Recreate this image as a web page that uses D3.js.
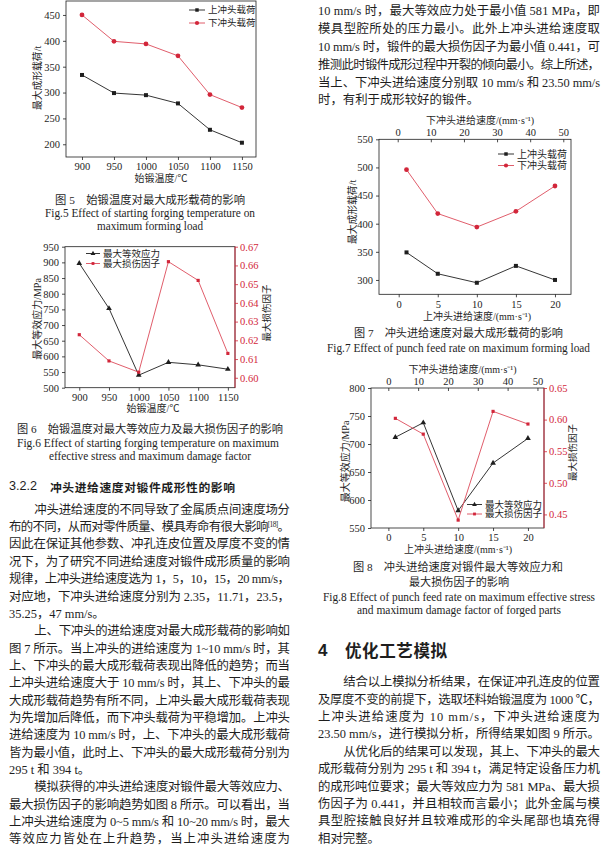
<!DOCTYPE html>
<html>
<head>
<meta charset="utf-8">
<script src="https://cdn.jsdelivr.net/npm/d3@7"></script>
<style>
html, body { margin: 0; padding: 0; background: #fff; }
svg { display: block; }
</style>
</head>
<body>
<svg id="page" width="614" height="848"></svg>
<script>
// ---- data ----
var tempX = [900, 950, 1000, 1050, 1100, 1150];
var upperLoadT = [334, 299, 295, 279, 228, 203];
var lowerLoadT = [450, 399, 394, 371, 296, 271];
var stressT = [897, 753, 540, 581, 573, 559];
var damageT = [0.623, 0.609, 0.603, 0.662, 0.652, 0.613];

var upperSpeed = [1, 5, 10, 15, 20];
var lowerSpeed = [2.35, 11.71, 23.5, 35.25, 47];
var upperLoadV = [349, 311, 295, 325, 300];
var lowerLoadV = [496, 418, 394, 422, 467];
var stressV = [712, 738, 581, 666, 710];
var damageV = [0.602, 0.577, 0.441, 0.613, 0.593];

var tempTicks = [900, 950, 1000, 1050, 1100, 1150];
var loadTicksT = [200, 250, 300, 350, 400, 450];
var stressTicksT = [500, 550, 600, 650, 700, 750, 800, 850, 900, 950];
var damageTicksT = [0.60, 0.61, 0.62, 0.63, 0.64, 0.65, 0.66, 0.67];
var speedTicks = [0, 5, 10, 15, 20];
var lowerSpeedTicks = [0, 10, 20, 30, 40, 50];
var loadTicksV = [300, 350, 400, 450, 500, 550];
var stressTicksV = [550, 600, 650, 700, 750, 800];
var damageTicksV = [0.45, 0.50, 0.55, 0.60, 0.65];

var svg = d3.select("#page");
var SERIF = '"Liberation Serif","Noto Sans CJK SC",serif';
var HEI = '"Noto Sans CJK SC","Liberation Sans",sans-serif';
var INK = "#1e1e1e";
var RED = "#d2263a", REDLINE = "#dd4b5a";
var intFmt = d3.format("d");

function styleAxis(sel, color) {
  sel.attr("font-family", SERIF).attr("font-size", 10.5);
  sel.select(".domain").remove();
  sel.selectAll("line").attr("stroke", color).attr("stroke-width", 0.8);
  sel.selectAll("text").attr("fill", color);
}

function title(t, x, y, o) {
  o = o || {};
  var el = svg.append("text")
    .attr("font-family", SERIF)
    .attr("font-size", o.size || 10)
    .attr("fill", o.color || INK)
    .attr("text-anchor", "middle")
    .attr("dominant-baseline", "central")
    .text(t);
  if (o.rot) el.attr("transform", "translate(" + x + "," + y + ") rotate(-90)");
  else el.attr("x", x).attr("y", y);
  return el;
}

function chart(c) {
  var g = svg.append("g");
  var x = d3.scaleLinear().domain(c.xDomain).range([c.x0, c.x1]);
  var y = d3.scaleLinear().domain(c.yDomain).range([c.y1, c.y0]);
  var y2 = c.y2Domain ? d3.scaleLinear().domain(c.y2Domain).range([c.y1, c.y0]) : null;

  g.append("rect")
    .attr("x", c.x0).attr("y", c.y0)
    .attr("width", c.x1 - c.x0).attr("height", c.y1 - c.y0)
    .attr("fill", "none").attr("stroke", INK).attr("stroke-width", 0.8);

  g.append("g").attr("transform", "translate(0," + c.y1 + ")")
    .call(d3.axisBottom(x).tickValues(c.xTicks).tickFormat(intFmt)
      .tickSize(3).tickPadding(3).tickSizeOuter(0))
    .call(styleAxis, INK);
  g.append("g").attr("transform", "translate(" + c.x0 + ",0)")
    .call(d3.axisLeft(y).tickValues(c.yTicks).tickFormat(intFmt)
      .tickSize(3).tickPadding(3).tickSizeOuter(0))
    .call(styleAxis, INK);

  if (y2) {
    g.append("g").attr("transform", "translate(" + c.x1 + ",0)")
      .call(d3.axisRight(y2).tickValues(c.y2Ticks).tickFormat(d3.format(".2f"))
        .tickSize(3).tickPadding(2).tickSizeOuter(0))
      .call(styleAxis, RED);
    g.append("line").attr("x1", c.x1).attr("x2", c.x1).attr("y1", c.y0).attr("y2", c.y1)
      .attr("stroke", RED).attr("stroke-width", 0.9);
  }
  if (c.xtDomain) {
    var xt = d3.scaleLinear().domain(c.xtDomain).range([c.x0, c.x1]);
    g.append("g").attr("transform", "translate(0," + c.y0 + ")")
      .call(d3.axisTop(xt).tickValues(c.xtTicks).tickFormat(intFmt)
        .tickSize(-3).tickPadding(c.topPad || 3).tickSizeOuter(0))
      .call(styleAxis, INK);
  }

  c.series.forEach(function(s) {
    var yy = s.right ? y2 : y;
    var pts = s.xs.map(function(v, i) { return [x(v), yy(s.ys[i])]; });
    g.append("path")
      .attr("d", d3.line()(pts))
      .attr("fill", "none")
      .attr("stroke", s.line)
      .attr("stroke-width", 0.9);
    g.selectAll(null).data(pts).enter().append("path")
      .attr("transform", function(p) { return "translate(" + p[0] + "," + p[1] + ")"; })
      .attr("d", d3.symbol().type(s.symbol).size(s.size))
      .attr("fill", s.color);
  });

  var lg = c.legend;
  lg.items.forEach(function(it, i) {
    var ly = lg.y + i * lg.dy;
    g.append("line").attr("x1", lg.x).attr("x2", lg.x + lg.len).attr("y1", ly).attr("y2", ly)
      .attr("stroke", it.line).attr("stroke-width", 0.9);
    g.append("path").attr("transform", "translate(" + (lg.x + lg.len / 2) + "," + ly + ")")
      .attr("d", d3.symbol().type(it.symbol).size(it.size)).attr("fill", it.color);
    g.append("text").attr("x", lg.x + lg.len + 3).attr("y", ly)
      .attr("dominant-baseline", "central")
      .attr("font-family", SERIF).attr("font-size", lg.size).attr("fill", INK)
      .text(it.label);
  });
}

// ---- Fig.5 ----
chart({
  x0: 66, x1: 256, y0: 1, y1: 157,
  xDomain: [875, 1172], xTicks: tempTicks,
  yDomain: [175.4, 477], yTicks: loadTicksT,
  series: [
    { xs: tempX, ys: upperLoadT, line: INK, color: INK, symbol: d3.symbolSquare, size: 16 },
    { xs: tempX, ys: lowerLoadT, line: REDLINE, color: RED, symbol: d3.symbolCircle, size: 18 }
  ],
  legend: { x: 189, y: 10, dy: 13, len: 16, size: 9.5, items: [
    { label: "上冲头载荷", line: INK, color: INK, symbol: d3.symbolSquare, size: 12 },
    { label: "下冲头载荷", line: REDLINE, color: RED, symbol: d3.symbolCircle, size: 14 }
  ] }
});
title("最大成形载荷/t", 37, 78, { rot: true, size: 9.8 });
title("始锻温度/℃", 161, 178.5, { size: 10 });

// ---- Fig.6 ----
chart({
  x0: 65, x1: 235, y0: 246.7, y1: 387.7,
  xDomain: [876, 1162], xTicks: tempTicks,
  yDomain: [500, 950], yTicks: stressTicksT,
  y2Domain: [0.5947, 0.67], y2Ticks: damageTicksT,
  series: [
    { xs: tempX, ys: stressT, line: INK, color: INK, symbol: d3.symbolTriangle, size: 14 },
    { xs: tempX, ys: damageT, right: true, line: REDLINE, color: RED, symbol: d3.symbolSquare, size: 10 }
  ],
  legend: { x: 86, y: 253.5, dy: 10, len: 14, size: 9.5, items: [
    { label: "最大等效应力", line: INK, color: INK, symbol: d3.symbolTriangle, size: 10 },
    { label: "最大损伤因子", line: REDLINE, color: RED, symbol: d3.symbolSquare, size: 8 }
  ] }
});
title("最大等效应力/MPa", 37, 319, { rot: true, size: 10 });
title("最大损伤因子", 266.5, 313, { rot: true, size: 9.5 });
title("始锻温度/℃", 153, 408.3, { size: 10 });

// ---- Fig.7 ----
chart({
  x0: 379, x1: 571, y0: 139.3, y1: 294.3,
  xDomain: [-2.52, 22.05], xTicks: speedTicks,
  yDomain: [274.5, 550], yTicks: loadTicksV,
  xtDomain: [-5.65, 52.33], xtTicks: lowerSpeedTicks, topPad: 3,
  series: [
    { xs: upperSpeed, ys: upperLoadV, line: INK, color: INK, symbol: d3.symbolSquare, size: 16 },
    { xs: upperSpeed, ys: lowerLoadV, line: REDLINE, color: RED, symbol: d3.symbolCircle, size: 18 }
  ],
  legend: { x: 498, y: 154, dy: 11.5, len: 16, size: 10, items: [
    { label: "上冲头载荷", line: INK, color: INK, symbol: d3.symbolSquare, size: 12 },
    { label: "下冲头载荷", line: REDLINE, color: RED, symbol: d3.symbolCircle, size: 14 }
  ] }
});
title("最大成形载荷/t", 352, 212, { rot: true, size: 9.8 });
title("上冲头进给速度/(mm·s⁻¹)", 477, 316.7, { size: 10 });
title("下冲头进给速度/(mm·s⁻¹)", 480, 120.7, { size: 10 });

// ---- Fig.8 ----
chart({
  x0: 371, x1: 544, y0: 388, y1: 528,
  xDomain: [-2.49, 22.3], xTicks: speedTicks,
  yDomain: [550, 800], yTicks: stressTicksV,
  y2Domain: [0.4285, 0.65], y2Ticks: damageTicksV,
  xtDomain: [-5.8, 52.2], xtTicks: lowerSpeedTicks, topPad: 3,
  series: [
    { xs: upperSpeed, ys: stressV, line: INK, color: INK, symbol: d3.symbolTriangle, size: 14 },
    { xs: upperSpeed, ys: damageV, right: true, line: REDLINE, color: RED, symbol: d3.symbolSquare, size: 10 }
  ],
  legend: { x: 467, y: 504.5, dy: 9.5, len: 15, size: 9.5, items: [
    { label: "最大等效应力", line: INK, color: INK, symbol: d3.symbolTriangle, size: 10 },
    { label: "最大损伤因子", line: REDLINE, color: RED, symbol: d3.symbolSquare, size: 8 }
  ] }
});
title("最大等效应力/MPa", 345, 461.5, { rot: true, size: 10 });
title("最大损伤因子", 573.3, 452.5, { rot: true, size: 9.5 });
title("上冲头进给速度/(mm·s⁻¹)", 458, 549, { size: 10 });
title("下冲头进给速度/(mm·s⁻¹)", 462.5, 369.3, { size: 10 });

// ---- captions ----
var captions = [
  [55, 245, 200, "图 5　始锻温度对最大成形载荷的影响", 11],
  [45, 255, 213.3, "Fig.5 Effect of starting forging temperature on", 11.5],
  [97, 203, 225.5, "maximum forming load", 11.5],
  [17, 283, 429, "图 6　始锻温度对最大等效应力及最大损伤因子的影响", 11],
  [17, 279, 443, "Fig.6 Effect of starting forging temperature on maximum", 11.5],
  [49, 251, 456, "effective stress and maximum damage factor", 11.5],
  [354, 563, 333, "图 7　冲头进给速度对最大成形载荷的影响", 11],
  [327, 590, 348, "Fig.7 Effect of punch feed rate on maximum forming load", 11.5],
  [353, 563, 566.7, "图 8　冲头进给速度对锻件最大等效应力和", 11],
  [409, 509, 581.7, "最大损伤因子的影响", 11],
  [323, 595, 597, "Fig.8 Effect of punch feed rate on maximum effective stress", 11.5],
  [357, 561, 609.5, "and maximum damage factor of forged parts", 11.5]
];
captions.forEach(function(c) {
  svg.append("text")
    .attr("x", c[0]).attr("y", c[2])
    .attr("dominant-baseline", "central")
    .attr("font-family", SERIF).attr("font-size", c[4]).attr("fill", INK)
    .attr("textLength", c[1] - c[0]).attr("lengthAdjust", "spacingAndGlyphs")
    .text(c[3]);
});

// ---- body text ----
var rightTop = [
  { t: "10 mm/s 时，最大等效应力处于最小值 581 MPa，即", full: true },
  { t: "模具型腔所处的压力最小。此外上冲头进给速度取", full: true },
  { t: "10 mm/s 时，锻件的最大损伤因子为最小值 0.441，可", full: true },
  { t: "推测此时锻件成形过程中开裂的倾向最小。综上所述，", full: true },
  { t: "当上、下冲头进给速度分别取 10 mm/s 和 23.50 mm/s", full: true },
  { t: "时，有利于成形较好的锻件。" }
];
var leftBody = [
  { t: "冲头进给速度的不同导致了金属质点间速度场分", ind: true, full: true },
  { t: "布的不同，从而对零件质量、模具寿命有很大影响^[18]^。", full: true },
  { t: "因此在保证其他参数、冲孔连皮位置及厚度不变的情", full: true },
  { t: "况下，为了研究不同进给速度对锻件成形质量的影响", full: true },
  { t: "规律，上冲头进给速度选为 1，5，10，15，20 mm/s，", full: true },
  { t: "对应地，下冲头进给速度分别为 2.35，11.71，23.5，", full: true },
  { t: "35.25，47 mm/s。" },
  { t: "上、下冲头的进给速度对最大成形载荷的影响如", ind: true, full: true },
  { t: "图 7 所示。当上冲头的进给速度为 1~10 mm/s 时，其", full: true },
  { t: "上、下冲头的最大成形载荷表现出降低的趋势；而当", full: true },
  { t: "上冲头进给速度大于 10 mm/s 时，其上、下冲头的最", full: true },
  { t: "大成形载荷趋势有所不同，上冲头最大成形载荷表现", full: true },
  { t: "为先增加后降低，而下冲头载荷为平稳增加。上冲头", full: true },
  { t: "进给速度为 10 mm/s 时，上、下冲头的最大成形载荷", full: true },
  { t: "皆为最小值，此时上、下冲头的最大成形载荷分别为", full: true },
  { t: "295 t 和 394 t。" },
  { t: "模拟获得的冲头进给速度对锻件最大等效应力、", ind: true, full: true },
  { t: "最大损伤因子的影响趋势如图 8 所示。可以看出，当", full: true },
  { t: "上冲头进给速度为 0~5 mm/s 和 10~20 mm/s 时，最大", full: true },
  { t: "等效应力皆处在上升趋势，当上冲头进给速度为", full: true }
];
var rightBody = [
  { t: "结合以上模拟分析结果，在保证冲孔连皮的位置", ind: true, full: true },
  { t: "及厚度不变的前提下，选取坯料始锻温度为 1000 ℃，", full: true },
  { t: "上冲头进给速度为 10 mm/s，下冲头进给速度为", full: true },
  { t: "23.50 mm/s，进行模拟分析，所得结果如图 9 所示。", full: true },
  { t: "从优化后的结果可以发现，其上、下冲头的最大", ind: true, full: true },
  { t: "成形载荷分别为 295 t 和 394 t，满足特定设备压力机", full: true },
  { t: "的成形吨位要求；最大等效应力为 581 MPa、最大损", full: true },
  { t: "伤因子为 0.441，并且相较而言最小；此外金属与模", full: true },
  { t: "具型腔接触良好并且较难成形的伞头尾部也填充得", full: true },
  { t: "相对完整。" }
];

function paragraph(lines, x0, x1, yStart, step) {
  var fs = 12.4;
  lines.forEach(function(l, i) {
    var xs = l.ind ? x0 + 2 * fs + 0.5 : x0;
    var el = svg.append("text")
      .attr("x", xs).attr("y", yStart + i * step + 0.36 * fs)
      .attr("font-family", SERIF).attr("font-size", fs).attr("fill", INK);
    l.t.split("^").forEach(function(part, k) {
      var ts = el.append("tspan").text(part);
      if (k % 2 === 1) ts.attr("font-size", 7.5).attr("baseline-shift", "super");
    });
    if (l.full) el.attr("textLength", x1 - xs).attr("lengthAdjust", "spacing");
  });
}
paragraph(rightTop, 318, 600, 11, 17.8);
paragraph(leftBody, 9, 290, 509.3, 17.35);
paragraph(rightBody, 318, 600, 681.7, 17.4);

// ---- headings ----
svg.append("text").attr("x", 9).attr("y", 486).attr("dominant-baseline", "central")
  .attr("font-family", '"Liberation Sans",sans-serif')
  .attr("font-size", 12.5).attr("fill", INK)
  .attr("textLength", 28).attr("lengthAdjust", "spacingAndGlyphs").text("3.2.2");
svg.append("text").attr("x", 50).attr("y", 486).attr("dominant-baseline", "central")
  .attr("font-family", HEI).attr("font-weight", "bold").attr("font-size", 11.8).attr("fill", INK)
  .attr("textLength", 185).attr("lengthAdjust", "spacing")
  .text("冲头进给速度对锻件成形性的影响");
svg.append("text").attr("x", 318).attr("y", 650).attr("dominant-baseline", "central")
  .attr("font-family", '"Liberation Sans",sans-serif').attr("font-weight", "bold")
  .attr("font-size", 17).attr("fill", INK).text("4");
svg.append("text").attr("x", 345).attr("y", 650).attr("dominant-baseline", "central")
  .attr("font-family", HEI).attr("font-weight", "bold").attr("font-size", 16.5).attr("fill", INK)
  .attr("textLength", 102).attr("lengthAdjust", "spacing")
  .text("优化工艺模拟");
</script>
</body>
</html>
